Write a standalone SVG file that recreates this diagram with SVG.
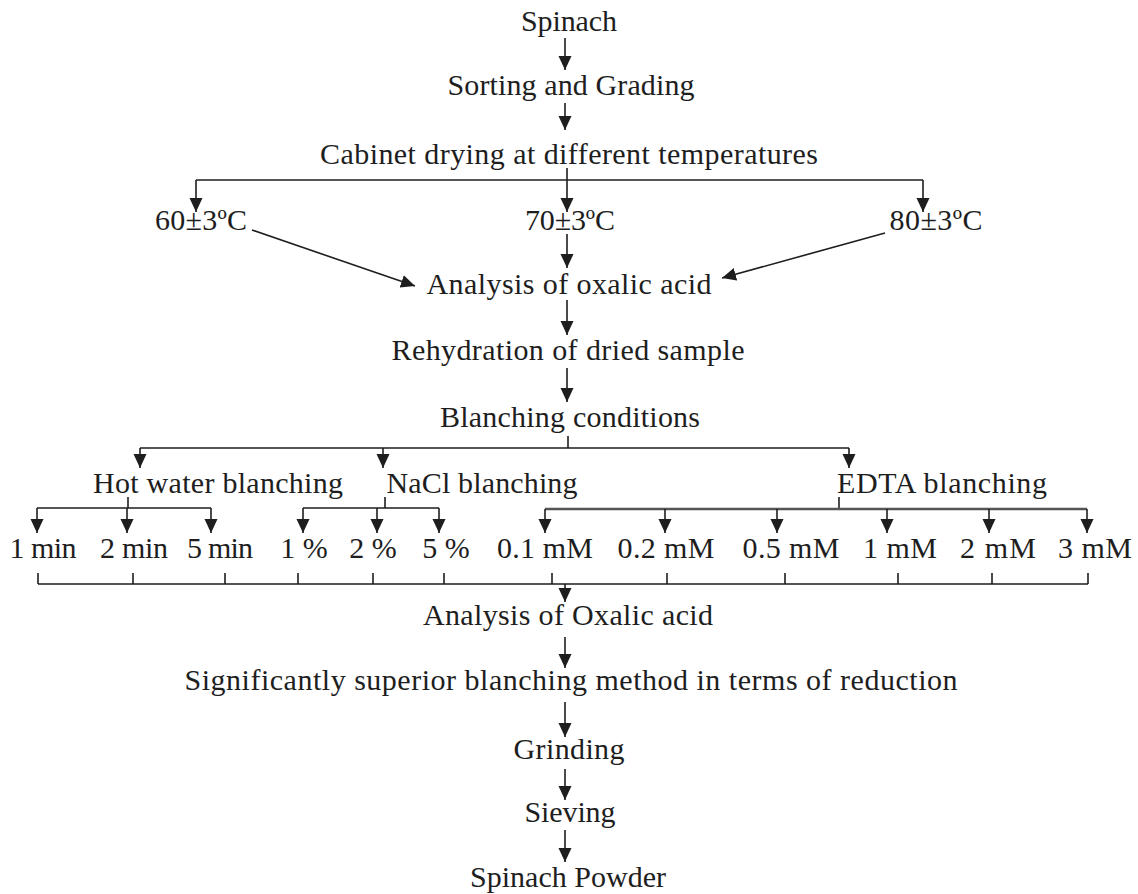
<svg xmlns="http://www.w3.org/2000/svg" width="1138" height="894" viewBox="0 0 1138 894">
<style>
text{font-family:"Liberation Serif","Times New Roman",serif;font-size:30px;fill:#1e1e1e;text-anchor:middle}
.c{fill:none;stroke:#1e1e1e;stroke-width:1.6}
.g{fill:none;stroke:#555;stroke-width:2.6}
</style>
<defs>
<marker id="ah" markerUnits="userSpaceOnUse" markerWidth="15" markerHeight="15" refX="14" refY="7.5" orient="auto">
<path d="M0,1 L14,7.5 L0,14 z" fill="#1e1e1e"/>
</marker>
</defs>
<rect width="1138" height="894" fill="#fff"/>
<g id="connectors">
<path class="c" d="M565,38 V70" marker-end="url(#ah)"/>
<path class="c" d="M565,103 V130" marker-end="url(#ah)"/>
<path class="c" d="M567,168 V212" marker-end="url(#ah)"/>
<path class="c" d="M196,180 H923"/>
<path class="c" d="M196,180 V212" marker-end="url(#ah)"/>
<path class="c" d="M923,180 V212" marker-end="url(#ah)"/>
<path class="c" d="M567,234 V268" marker-end="url(#ah)"/>
<path class="c" d="M252,230 L415,286" marker-end="url(#ah)"/>
<path class="c" d="M885,233 L722,278" marker-end="url(#ah)"/>
<path class="c" d="M567,300 V335" marker-end="url(#ah)"/>
<path class="c" d="M567,368 V402" marker-end="url(#ah)"/>
<path class="c" d="M568,436 V448 M140,448 H849"/>
<path class="c" d="M140,448 V468" marker-end="url(#ah)"/>
<path class="c" d="M383,448 V468" marker-end="url(#ah)"/>
<path class="c" d="M849,448 V468" marker-end="url(#ah)"/>
<path class="c" d="M128,497 V508 M37,508 H211"/>
<path class="c" d="M37,508 V533" marker-end="url(#ah)"/>
<path class="c" d="M127,508 V533" marker-end="url(#ah)"/>
<path class="c" d="M211,508 V533" marker-end="url(#ah)"/>
<path class="c" d="M385,497 V508 M303,508 H439"/>
<path class="c" d="M303,508 V533" marker-end="url(#ah)"/>
<path class="c" d="M377,508 V533" marker-end="url(#ah)"/>
<path class="c" d="M439,508 V533" marker-end="url(#ah)"/>
<path class="c" d="M839,497 V509"/>
<path class="g" d="M545,509 H1087"/>
<path class="c" d="M545,509 V533" marker-end="url(#ah)"/>
<path class="c" d="M665,509 V533" marker-end="url(#ah)"/>
<path class="c" d="M777,509 V533" marker-end="url(#ah)"/>
<path class="c" d="M887,509 V533" marker-end="url(#ah)"/>
<path class="c" d="M989,509 V533" marker-end="url(#ah)"/>
<path class="c" d="M1087,509 V533" marker-end="url(#ah)"/>
<path class="c" d="M38,573 V584 M133,573 V584 M225,573 V584 M298,573 V584 M373,573 V584 M444,573 V584 M552,573 V584 M667,573 V584 M785,573 V584 M898,573 V584 M992,573 V584 M1088,573 V584 M38,584 H1088"/>
<path class="c" d="M565,584 V602" marker-end="url(#ah)"/>
<path class="c" d="M565,637 V668" marker-end="url(#ah)"/>
<path class="c" d="M565,702 V737" marker-end="url(#ah)"/>
<path class="c" d="M565,769 V800" marker-end="url(#ah)"/>
<path class="c" d="M565,830 V862" marker-end="url(#ah)"/>
</g>
<g id="n-spinach"><text x="569" y="31" textLength="96">Spinach</text></g>
<g id="n-sorting"><text x="571" y="95" textLength="247">Sorting and Grading</text></g>
<g id="n-cabinet"><text x="569" y="164" textLength="498">Cabinet drying at different temperatures</text></g>
<g id="n-t60"><text x="201" y="230" textLength="92">60±3ºC</text></g>
<g id="n-t70"><text x="570" y="230" textLength="90">70±3ºC</text></g>
<g id="n-t80"><text x="936" y="230" textLength="93">80±3ºC</text></g>
<g id="n-analysis1"><text x="569" y="294" textLength="285">Analysis of oxalic acid</text></g>
<g id="n-rehydration"><text x="568" y="360" textLength="353">Rehydration of dried sample</text></g>
<g id="n-blanching"><text x="570" y="427" textLength="260">Blanching conditions</text></g>
<g id="n-hot"><text x="218" y="493" textLength="250">Hot water blanching</text></g>
<g id="n-nacl"><text x="482" y="493" textLength="191">NaCl blanching</text></g>
<g id="n-edta"><text x="942" y="493" textLength="210">EDTA blanching</text></g>
<g id="n-1min"><text x="43" y="558" textLength="67">1 min</text></g>
<g id="n-2min"><text x="134" y="558" textLength="68">2 min</text></g>
<g id="n-5min"><text x="220" y="558" textLength="66">5 min</text></g>
<g id="n-1pc"><text x="304" y="558">1 %</text></g>
<g id="n-2pc"><text x="373" y="558">2 %</text></g>
<g id="n-5pc"><text x="446" y="558">5 %</text></g>
<g id="n-01mm"><text x="545" y="558" textLength="96">0.1 mM</text></g>
<g id="n-02mm"><text x="666" y="558" textLength="97">0.2 mM</text></g>
<g id="n-05mm"><text x="791" y="558" textLength="97">0.5 mM</text></g>
<g id="n-1mm"><text x="900" y="558" textLength="74">1 mM</text></g>
<g id="n-2mm"><text x="998" y="558" textLength="76">2 mM</text></g>
<g id="n-3mm"><text x="1095" y="558" textLength="74">3 mM</text></g>
<g id="n-analysis2"><text x="568" y="625" textLength="290">Analysis of Oxalic acid</text></g>
<g id="n-superior"><text x="571" y="690" textLength="773">Significantly superior blanching method in terms of reduction</text></g>
<g id="n-grinding"><text x="569" y="759" textLength="111">Grinding</text></g>
<g id="n-sieving"><text x="570" y="822" textLength="91">Sieving</text></g>
<g id="n-powder"><text x="568" y="887" textLength="196">Spinach Powder</text></g>
</svg>
